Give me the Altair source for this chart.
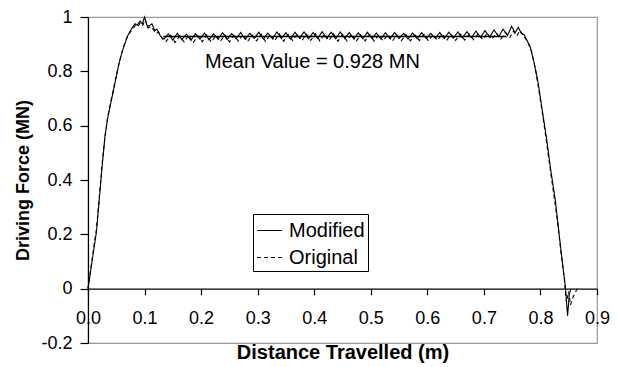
import altair as alt
import pandas as pd

# ---------------- data ----------------
modified_rise = [(0.000, 0.00), (0.005, 0.07), (0.010, 0.14), (0.015, 0.21), (0.020, 0.33),
                 (0.025, 0.45), (0.030, 0.56), (0.035, 0.63), (0.040, 0.68), (0.045, 0.73),
                 (0.050, 0.78), (0.055, 0.83), (0.060, 0.87), (0.065, 0.90), (0.070, 0.93),
                 (0.075, 0.95), (0.078, 0.96), (0.083, 0.975), (0.087, 0.97), (0.092, 0.985),
                 (0.096, 0.975), (0.100, 1.00), (0.105, 0.965), (0.110, 0.97), (0.113, 0.975),
                 (0.118, 0.95), (0.122, 0.955), (0.128, 0.93)]
modified_plateau = [
    (0.134, 0.918), (0.142, 0.938), (0.150, 0.915), (0.158, 0.940), (0.166, 0.917), (0.174, 0.937),
    (0.182, 0.914), (0.190, 0.939), (0.198, 0.918), (0.206, 0.941), (0.214, 0.916), (0.222, 0.938),
    (0.230, 0.919), (0.238, 0.942), (0.246, 0.917), (0.254, 0.939), (0.262, 0.920), (0.270, 0.943),
    (0.278, 0.918), (0.286, 0.940), (0.294, 0.921), (0.302, 0.944), (0.310, 0.919), (0.318, 0.941),
    (0.326, 0.920), (0.334, 0.945), (0.342, 0.921), (0.350, 0.942), (0.358, 0.919), (0.366, 0.944),
    (0.374, 0.922), (0.382, 0.945), (0.390, 0.920), (0.398, 0.943), (0.406, 0.921), (0.414, 0.946),
    (0.422, 0.922), (0.430, 0.944), (0.438, 0.920), (0.446, 0.945), (0.454, 0.921), (0.462, 0.943),
    (0.470, 0.919), (0.478, 0.942), (0.486, 0.920), (0.494, 0.944), (0.502, 0.921), (0.510, 0.941),
    (0.518, 0.919), (0.526, 0.942), (0.534, 0.920), (0.542, 0.943), (0.550, 0.921), (0.558, 0.940),
    (0.566, 0.919), (0.574, 0.941), (0.582, 0.920), (0.590, 0.942), (0.598, 0.921), (0.606, 0.940),
    (0.614, 0.922), (0.622, 0.943), (0.630, 0.921), (0.638, 0.944), (0.646, 0.922), (0.654, 0.945),
    (0.662, 0.923), (0.670, 0.946), (0.678, 0.924), (0.686, 0.948), (0.694, 0.925), (0.702, 0.950),
    (0.710, 0.926), (0.718, 0.952), (0.726, 0.928), (0.734, 0.955), (0.742, 0.932)]
modified_end = [(0.749, 0.966), (0.755, 0.942), (0.761, 0.962), (0.766, 0.940), (0.771, 0.935),
                (0.776, 0.915), (0.782, 0.890), (0.789, 0.830), (0.796, 0.757), (0.803, 0.660),
                (0.811, 0.550), (0.818, 0.440), (0.826, 0.330), (0.832, 0.220), (0.838, 0.110),
                (0.844, 0.010), (0.848, -0.100), (0.851, -0.020), (0.854, 0.000)]

original_rise = [(0.000, 0.00), (0.005, 0.075), (0.010, 0.15), (0.015, 0.22), (0.020, 0.34),
                 (0.025, 0.46), (0.030, 0.56), (0.035, 0.635), (0.040, 0.685), (0.045, 0.735),
                 (0.050, 0.785), (0.055, 0.83), (0.060, 0.87), (0.065, 0.905), (0.070, 0.93),
                 (0.075, 0.945), (0.079, 0.955), (0.084, 0.97), (0.088, 0.965), (0.093, 0.98),
                 (0.097, 0.97), (0.101, 0.99), (0.106, 0.96), (0.111, 0.965), (0.115, 0.955),
                 (0.120, 0.94), (0.125, 0.945), (0.131, 0.92)]
original_plateau = [
    (0.138, 0.910), (0.146, 0.932), (0.154, 0.906), (0.162, 0.930), (0.170, 0.908), (0.178, 0.933),
    (0.186, 0.905), (0.194, 0.931), (0.202, 0.909), (0.210, 0.934), (0.218, 0.907), (0.226, 0.932),
    (0.234, 0.910), (0.242, 0.935), (0.250, 0.908), (0.258, 0.933), (0.266, 0.911), (0.274, 0.936),
    (0.282, 0.909), (0.290, 0.934), (0.298, 0.912), (0.306, 0.937), (0.314, 0.910), (0.322, 0.935),
    (0.330, 0.912), (0.338, 0.938), (0.346, 0.911), (0.354, 0.936), (0.362, 0.913), (0.370, 0.938),
    (0.378, 0.912), (0.386, 0.937), (0.394, 0.914), (0.402, 0.939), (0.410, 0.912), (0.418, 0.937),
    (0.426, 0.913), (0.434, 0.938), (0.442, 0.911), (0.450, 0.936), (0.458, 0.912), (0.466, 0.937),
    (0.474, 0.910), (0.482, 0.935), (0.490, 0.912), (0.498, 0.936), (0.506, 0.911), (0.514, 0.934),
    (0.522, 0.912), (0.530, 0.935), (0.538, 0.911), (0.546, 0.934), (0.554, 0.913), (0.562, 0.935),
    (0.570, 0.912), (0.578, 0.934), (0.586, 0.913), (0.594, 0.936), (0.602, 0.912), (0.610, 0.935),
    (0.618, 0.914), (0.626, 0.937), (0.634, 0.913), (0.642, 0.936), (0.650, 0.914), (0.658, 0.938),
    (0.666, 0.915), (0.674, 0.937), (0.682, 0.916), (0.690, 0.939), (0.698, 0.917), (0.706, 0.940),
    (0.714, 0.918), (0.722, 0.941), (0.730, 0.919), (0.738, 0.943)]
original_end = [(0.746, 0.925), (0.752, 0.948), (0.758, 0.930), (0.764, 0.950), (0.770, 0.930),
                (0.777, 0.910), (0.784, 0.875), (0.791, 0.810), (0.798, 0.720), (0.806, 0.610),
                (0.814, 0.490), (0.822, 0.370), (0.830, 0.250), (0.836, 0.140), (0.842, 0.040),
                (0.846, -0.050), (0.850, -0.010), (0.853, -0.060), (0.858, -0.030), (0.865, 0.000)]

mean_x_start, mean_x_end = 0.133, 0.740
mean_value = 0.928
note_text = "Mean Value = 0.928 MN"
note_x, note_y = 0.207, 0.834

series_names = ["Modified", "Original"]
x_ticks = [0.0, 0.1, 0.2, 0.3, 0.4, 0.5, 0.6, 0.7, 0.8, 0.9]
y_ticks = [-0.2, 0.0, 0.2, 0.4, 0.6, 0.8, 1.0]
x_domain = [0.0, 0.9]
y_domain = [-0.2, 1.0]

# ---------------- build table ----------------
rows = []
for name, pts in [("Modified", modified_rise + modified_plateau + modified_end),
                  ("Original", original_rise + original_plateau + original_end)]:
    for i, (x, y) in enumerate(pts):
        rows.append({"series": name, "x": x, "y": y, "i": i})
df = pd.DataFrame(rows)

FONT = "Liberation Sans"
W, H = 509, 326
# move the x axis up from the bottom edge to where y = 0 lies
zero_offset = -H * (0 - y_domain[0]) / (y_domain[1] - y_domain[0])

xscale = alt.Scale(domain=x_domain, nice=False, zero=False)
yscale = alt.Scale(domain=y_domain, nice=False, zero=False)

lines = alt.Chart(df).mark_line(color="black", strokeWidth=1.1).encode(
    x=alt.X("x:Q", scale=xscale,
            axis=alt.Axis(values=x_ticks, format=".1f", offset=zero_offset,
                          title="Distance Travelled (m)", titleFontSize=20, grid=False,
                          domainColor="black", tickColor="black", tickSize=6,
                          labelPadding=15, titlePadding=15, labelFlush=False)),
    y=alt.Y("y:Q", scale=yscale,
            axis=alt.Axis(values=y_ticks, title="Driving Force (MN)", grid=False,
                          labelExpr="datum.value < 0 ? '-' + format(-datum.value, '.1f') : format(datum.value, '~g')",
                          domainColor="black", tickColor="black", tickSize=8,
                          labelPadding=8, titlePadding=8)),
    strokeDash=alt.StrokeDash("series:N",
                              scale=alt.Scale(domain=series_names, range=[[1, 0], [4, 3]]),
                              legend=alt.Legend(orient="none", legendX=165, legendY=197,
                                                title=None, symbolType="stroke",
                                                symbolSize=625, symbolStrokeColor="black",
                                                symbolStrokeWidth=1.1, labelFontSize=20,
                                                labelFont=FONT, labelColor="black",
                                                strokeColor="black", fillColor="white",
                                                padding=3, rowPadding=3, labelOffset=6)),
    detail="series:N",
    order="i:Q",
)

mean_df = pd.DataFrame({"x": [mean_x_start], "x2": [mean_x_end], "y": [mean_value]})
mean_line = alt.Chart(mean_df).mark_rule(color="black", strokeWidth=1.6).encode(
    x=alt.X("x:Q", scale=xscale), x2="x2:Q", y=alt.Y("y:Q", scale=yscale)
)

note_df = pd.DataFrame({"x": [note_x], "y": [note_y], "t": [note_text]})
note = alt.Chart(note_df).mark_text(align="left", baseline="middle", fontSize=20,
                                    font=FONT, color="black").encode(
    x=alt.X("x:Q", scale=xscale), y=alt.Y("y:Q", scale=yscale), text="t:N"
)

chart = alt.layer(lines, mean_line, note).properties(
    width=W, height=H,
    autosize="none",
    background="white",
    padding={"left": 88, "top": 17, "right": 21, "bottom": 24},
).configure_view(
    stroke="#999999", strokeWidth=1.2
).configure_axis(
    labelFont=FONT, labelFontSize=18, labelColor="black",
    titleFont=FONT, titleFontSize=18, titleFontWeight="bold", titleColor="black",
    domainWidth=1.2, tickWidth=1.2
)

chart.save("out.html", embed_options={"renderer": "svg", "actions": False})
